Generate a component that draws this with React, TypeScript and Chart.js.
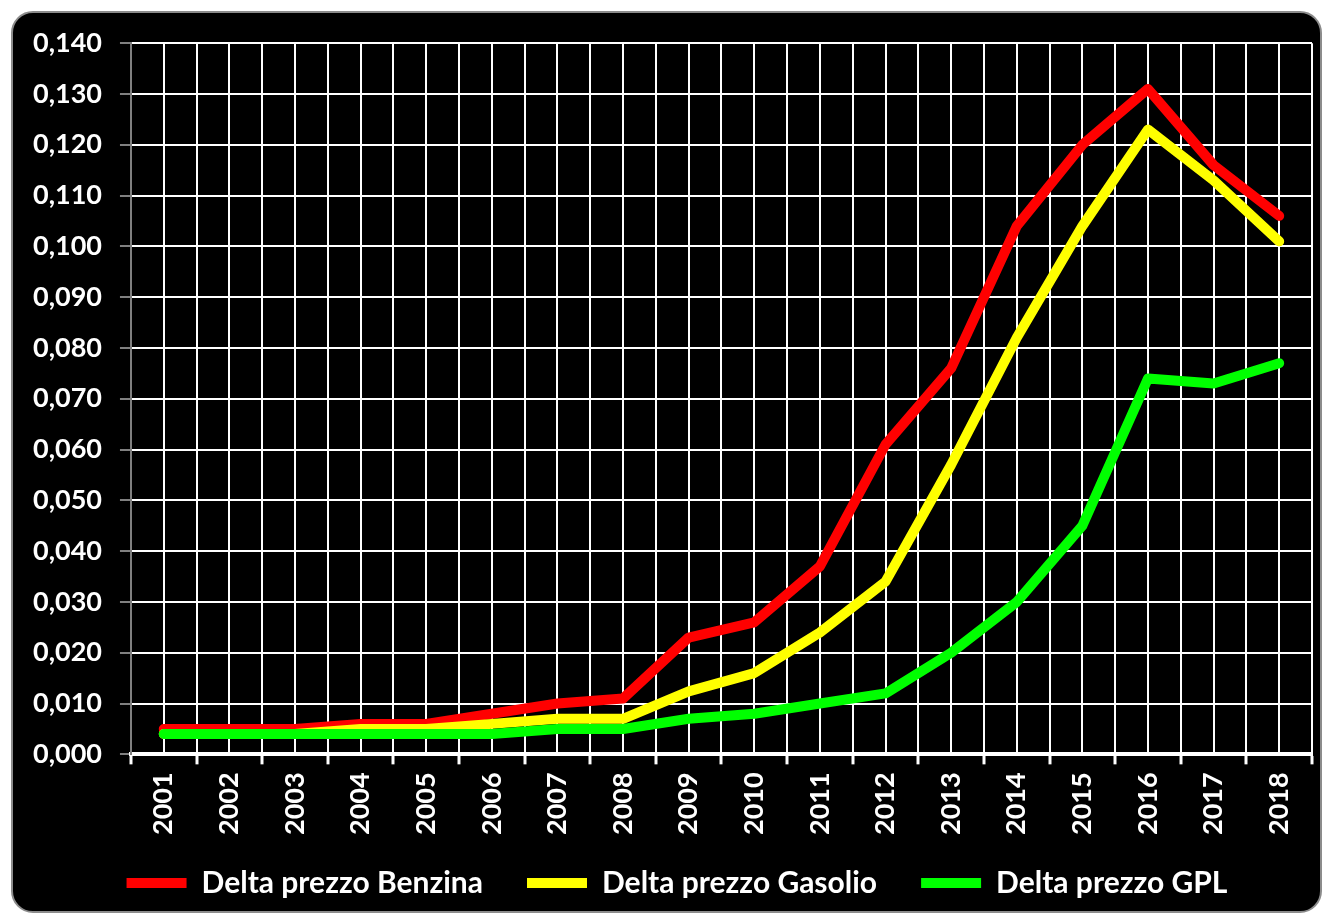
import React, { useEffect, useRef } from "react";
import { Chart, registerables } from "chart.js";

Chart.register(...registerables);

const years = ["2001","2002","2003","2004","2005","2006","2007","2008","2009","2010","2011","2012","2013","2014","2015","2016","2017","2018"];
const benzina = [0.005,0.005,0.005,0.006,0.006,0.008,0.010,0.011,0.023,0.026,0.037,0.061,0.076,0.104,0.120,0.131,0.116,0.106];
const gasolio = [0.004,0.004,0.004,0.005,0.005,0.006,0.007,0.007,0.0124,0.016,0.024,0.034,0.057,0.082,0.104,0.123,0.113,0.101];
const gpl = [0.004,0.004,0.004,0.004,0.004,0.004,0.005,0.005,0.007,0.008,0.010,0.012,0.020,0.030,0.045,0.074,0.073,0.077];
const seriesNames = ["Delta prezzo Benzina","Delta prezzo Gasolio","Delta prezzo GPL"];

const FONT = "Lato, 'Open Sans', sans-serif";
const LEGEND_FONT = 30;

// places the legend row (layout only)
const legendPlacer = {
  id: "legendPlacer",
  afterLayout(chart: any) {
    const lg = chart.legend;
    if (!lg) return;
    const p = lg.options.labels.padding;
    const dy = 874 - (lg.top + p + LEGEND_FONT / 2);
    lg.top += dy;
    lg.bottom += dy;
    const dx = 664 - (lg.left + lg.right) / 2;
    lg.left += dx;
    lg.right += dx;
  },
};

export default function App() {
  const ref = useRef<HTMLCanvasElement | null>(null);
  useEffect(() => {
    if (!ref.current) return;
    const mk = (label: string, data: number[], color: string, order: number) => ({
      label, data, borderColor: color, backgroundColor: color, borderWidth: 10,
      borderCapStyle: "round" as const, borderJoinStyle: "round" as const,
      pointRadius: 0, pointHoverRadius: 0, tension: 0, fill: false, order,
    });
    const chart = new Chart(ref.current, {
      type: "line",
      data: {
        labels: years,
        datasets: [
          mk(seriesNames[0], benzina, "#ff0000", 3),
          mk(seriesNames[1], gasolio, "#ffff00", 2),
          mk(seriesNames[2], gpl, "#00ff00", 1),
        ],
      },
      plugins: [legendPlacer],
      options: {
        animation: false,
        responsive: true,
        maintainAspectRatio: false,
        layout: { padding: { left: 2, right: 8, top: 10, bottom: 0 } },
        plugins: {
          tooltip: { enabled: false },
          legend: {
            position: "bottom",
            labels: {
              usePointStyle: true,
              pointStyle: "line",
              pointStyleWidth: 60,
              color: "#ffffff",
              padding: 44,
              font: { family: FONT, size: LEGEND_FONT, weight: "bold" },
              sort: (a: any, b: any) => a.datasetIndex - b.datasetIndex,
            },
          },
        },
        scales: {
          x: {
            type: "category",
            offset: true,
            grid: {
              offset: true,
              color: (c: any) => (c.index === 0 ? "rgba(0,0,0,0)" : "#ffffff"),
              lineWidth: 2,
              tickColor: "#ffffff",
              tickWidth: 3,
              tickLength: 10,
            },
            border: { display: true, color: "#ffffff", width: 4 },
            ticks: {
              color: "#ffffff",
              minRotation: 90,
              maxRotation: 90,
              padding: 8,
              autoSkip: false,
              font: { family: FONT, size: 27, weight: "bold" },
            },
          },
          x2: {
            type: "category",
            position: "bottom",
            offset: true,
            grid: { offset: false, color: "#ffffff", lineWidth: 2, drawTicks: false },
            border: { display: false },
            ticks: { display: false },
          },
          y: {
            min: 0,
            max: 0.14,
            ticks: {
              stepSize: 0.01,
              color: "#ffffff",
              padding: 18,
              font: { family: FONT, size: 27, weight: "bold" },
              callback: (v: any) => Number(v).toFixed(3).replace(".", ","),
            },
            grid: { color: "#ffffff", lineWidth: 2, tickColor: "#808080", tickLength: 11, tickWidth: 2 },
            border: { display: true, color: "#808080", width: 2 },
          },
        },
      },
    });
    return () => chart.destroy();
  }, []);
  return (
    <div
      style={{
        position: "absolute",
        left: 11,
        top: 11,
        width: 1311,
        height: 902,
        boxSizing: "border-box",
        border: "2px solid #8c8c8c",
        borderRadius: 22,
        background: "#000000",
        overflow: "hidden",
      }}
    >
      <div style={{ position: "relative", width: 1307, height: 918, marginTop: -4 }}>
        <canvas ref={ref} />
      </div>
    </div>
  );
}
